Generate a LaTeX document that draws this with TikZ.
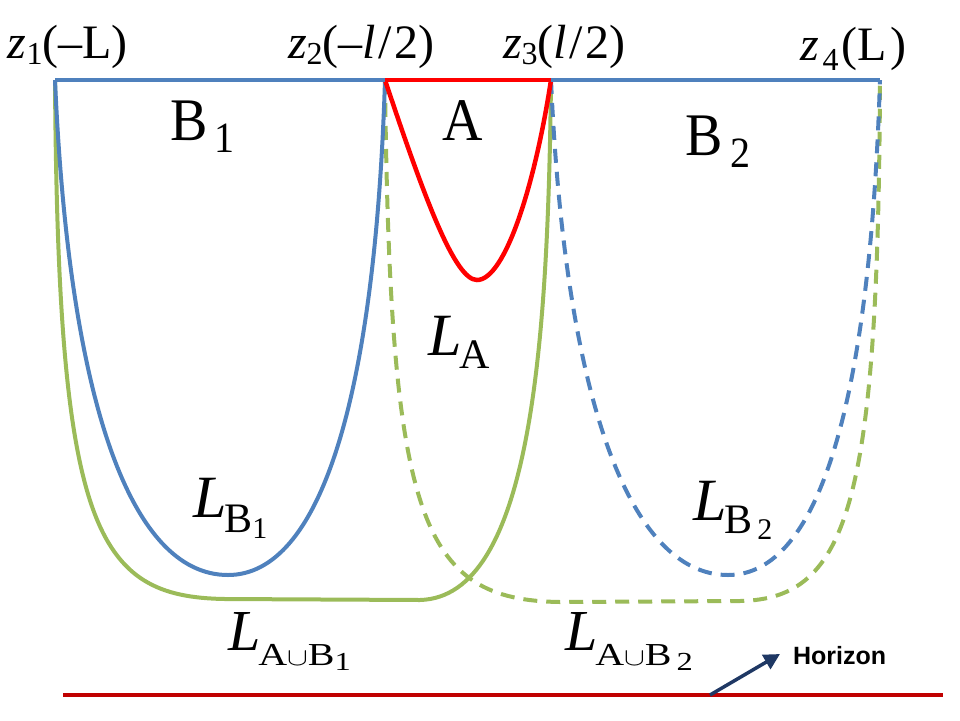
\documentclass[tikz,border=0pt]{standalone}
\usepackage{fontspec}
\setmainfont{Liberation Serif}
\newfontfamily\hsans{Liberation Sans}
\usetikzlibrary{arrows.meta}
\definecolor{cblue}{HTML}{4F81BD}
\definecolor{cgreen}{HTML}{9BBB59}
\definecolor{cred}{HTML}{FF0000}
\definecolor{hred}{HTML}{C00000}
\definecolor{navy}{HTML}{1F3864}
\newcommand\fs[1]{\fontsize{#1}{#1}\selectfont}
\newcommand\lsub[2]{\raisebox{-#1}{#2}}
\begin{document}
\begin{tikzpicture}[x=1pt,y=-1pt,
  bluel/.style={cblue,line width=4pt},
  greenl/.style={cgreen,line width=4pt},
  redl/.style={cred,line width=4.5pt},
  dashl/.style={dash pattern=on 14pt off 9pt},
  lbl/.style={anchor=base west,inner sep=0pt,outer sep=0pt}]
\useasboundingbox (0,0) rectangle (960,720);
\coordinate (z1) at (55,80);
\coordinate (z2) at (385,80);
\coordinate (z3) at (551,80);
\coordinate (z4) at (880,80);
\coordinate (b1) at (228,575);
\coordinate (b2) at (728,575);
\coordinate (ba) at (477,280);
\coordinate (g1l) at (225,599);
\coordinate (g1r) at (420,600);
\coordinate (g2l) at (560,602);
\coordinate (g2r) at (740,601);
\coordinate (hl) at (63,695);
\coordinate (hr) at (943,695);
\coordinate (ha) at (710,695);
\coordinate (hb) at (780,654);
% green curves
\draw[greenl] (z1) .. controls (58,530) and (95,597) .. (g1l) -- (g1r)
   .. controls (530,597) and (548,350) .. (z3);
\draw[greenl,dashl] (z2) .. controls (390,520) and (420,600) .. (g2l) -- (g2r)
   .. controls (850,599) and (878,500) .. (z4);
% blue curves
\draw[bluel] (z1) .. controls (69,400) and (130,575) .. (b1)
   .. controls (320,575) and (375,400) .. (z2);
\draw[bluel,dashl] (z3) .. controls (565,400) and (630,575) .. (b2)
   .. controls (820,575) and (870,400) .. (z4);
% red curve
\draw[redl] (z2) .. controls (425,200) and (455,280) .. (ba)
   .. controls (505,280) and (535,185) .. (z3);
% top line
\draw[bluel] (z1) -- (z2);
\draw[bluel] (z3) -- (z4);
\draw[redl] (z2) -- (z3);
% horizon
\draw[hred,line width=4.5pt] (hl) -- (hr);
\draw[navy,line width=3.5pt,-{Triangle[length=16pt,width=16pt]}] (ha) -- (hb);
\node[lbl,font=\hsans\bfseries\fs{25}] (hz) at (793,664) {Horizon};
% top labels
\node[lbl] (t1) at (8,58) {\fs{48}\textit{z}\lsub{6pt}{\fs{32}1}(–L)};
\node[lbl] (t2) at (288,58) {\fs{48}\textit{z}\lsub{6pt}{\fs{32}2}(–\textit{l}\kern2pt/\kern3pt2)};
\node[lbl] (t3) at (503,58) {\fs{48}\textit{z}\lsub{6pt}{\fs{32}3}(\textit{l}\kern2pt/\kern3pt2)};
\node[lbl] (t4) at (800,60) {\fs{48}\textit{z}\kern4pt\lsub{10pt}{\fs{32}4}\kern3pt(L\kern4pt)};
% region labels
\node[lbl] (rb1) at (170,140) {\scalebox{1}[1.08]{\fs{56}B\kern7pt\lsub{12pt}{\fs{40}1}}};
\node[lbl] (ra) at (442,140) {\scalebox{1}[1.08]{\fs{56}A}};
\node[lbl] (rb2) at (685,155) {\scalebox{1}[1.08]{\fs{56}B\kern8pt\lsub{12pt}{\fs{40}2}}};
% curve labels
\node[lbl] (la) at (428,355) {\fs{60}\textit{L}\kern-2pt\lsub{13pt}{\fs{42}A}};
\node[lbl] (lb1) at (193,517) {\fs{60}\textit{L}\kern-2pt\lsub{15pt}{\fs{42}B\lsub{6pt}{\fs{30}1}}};
\node[lbl] (lb2) at (693,520) {\fs{60}\textit{L}\kern-2pt\lsub{13pt}{\fs{42}B\kern5pt\lsub{6pt}{\fs{30}2}}};
\node[lbl] (lab1) at (228,650) {\fs{58}\textit{L}\kern-2pt\lsub{15pt}{\fs{32}\scalebox{1.25}[1]{A$\cup$B\lsub{5pt}{\fs{26}1}}}};
\node[lbl] (lab2) at (565,650) {\fs{58}\textit{L}\kern-2pt\lsub{15pt}{\fs{32}\scalebox{1.25}[1]{A$\cup$B\kern4pt\lsub{5pt}{\fs{26}2}}}};
\end{tikzpicture}
\end{document}
